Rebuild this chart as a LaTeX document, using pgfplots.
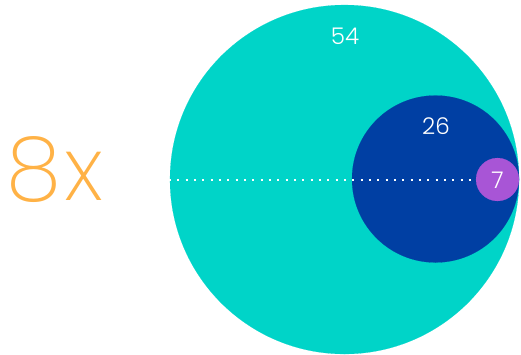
\documentclass[border=0pt]{standalone}
\usepackage{pgfplots}
\pgfplotsset{compat=1.18}
\usepackage{fontspec}
\newfontfamily\pop{Poppins Light}
\newfontfamily\popx{Poppins ExtraLight}
\definecolor{teal1}{RGB}{0,212,200}
\definecolor{navy1}{RGB}{0,63,163}
\definecolor{purp1}{RGB}{168,85,214}
\definecolor{orng1}{RGB}{255,178,70}
\begin{document}
\begin{tikzpicture}
\begin{axis}[
  width=521pt, height=354pt, scale only axis,
  xmin=0, xmax=521, ymin=0, ymax=354, y dir=reverse,
  hide axis, clip=false, clip mode=individual,
]
\addplot[only marks, mark=*, mark size=174.5pt, mark options={fill=teal1, draw=teal1, line width=0.1pt}] coordinates {(344.5,179.5)};
\addplot[only marks, mark=*, mark size=83.5pt, mark options={fill=navy1, draw=navy1, line width=0.1pt}] coordinates {(435.5,179)};
\addplot[white, mark=none, line width=2pt, line cap=butt, dash pattern=on 2pt off 6.33pt] coordinates {(169,179.5) (490,179.5)};
\addplot[only marks, mark=*, mark size=21.5pt, mark options={fill=purp1, draw=purp1, line width=0.1pt}] coordinates {(497.5,179.5)};
\addplot[only marks, mark=none, nodes near coords, point meta=explicit symbolic,
  nodes near coords style={anchor=center, font=\pop\fontsize{23}{23}\selectfont, text=white}]
  coordinates {(345,36)[54] (436,126)[26] (497.5,180)[7]};
\addplot[only marks, mark=none, nodes near coords, point meta=explicit symbolic,
  nodes near coords style={anchor=center, font=\popx\fontsize{89}{89}\selectfont\addfontfeature{LetterSpace=4}, text=orng1}]
  coordinates {(55,170)[8x]};
\end{axis}
\pgfresetboundingbox
\path (current axis.south west) rectangle (current axis.north east);
\end{tikzpicture}
\end{document}
